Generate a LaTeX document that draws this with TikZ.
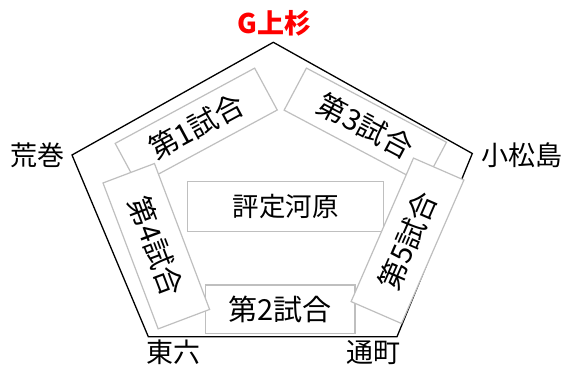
\documentclass[tikz,border=0pt]{standalone}
\usepackage{fontspec}
\newfontfamily\jp{Noto Sans CJK JP}
\definecolor{boxgray}{RGB}{191,191,191}
\tikzset{
  outline/.style={draw=black, line width=1.3pt, line join=miter},
  matchbox/.style={draw=boxgray, line width=1.2pt, fill=white, inner sep=0pt,
    font=\jp\fontsize{29}{31}\selectfont, text=black},
  placelabel/.style={inner sep=0pt, font=\jp\fontsize{27}{29}\selectfont, text=black},
}
\begin{document}
\begin{tikzpicture}[x=1pt, y=-1pt]
\useasboundingbox (0,0) rectangle (569,366);
% pentagon corners
\coordinate (pA) at (273.3,42.3);
\coordinate (pB) at (472.3,153.5);
\coordinate (pC) at (397,336.7);
\coordinate (pD) at (148.3,336.7);
\coordinate (pE) at (72,155);
\draw[outline] (pA) -- (pB) -- (pC) -- (pD) -- (pE) -- cycle;
% boxes
\node[matchbox, minimum width=195.6pt, minimum height=50pt, font=\jp\fontsize{26.5}{28}\selectfont] (judge) at (285.5,206.7) {評定河原};
\node[matchbox, minimum width=158.5pt, minimum height=47.6pt, rotate=28.35] (m1) at (196.2,126.7) {第1試合};
\node[matchbox, minimum width=158.5pt, minimum height=47.6pt, rotate=-27.9] (m3) at (365.3,126.2) {第3試合};
\node[matchbox, minimum width=149.5pt, minimum height=48.3pt] (m2) at (280.3,309.2) {第2試合};
\node[matchbox, minimum width=156pt, minimum height=55pt, rotate=-69.3] (m4) at (156.3,246.2) {第4試合};
\node[matchbox, minimum width=156.5pt, minimum height=55pt, rotate=66.5] (m5) at (407.5,240.8) {第5試合};
% labels
\node[placelabel, text=red, font=\jp\bfseries\fontsize{27}{29}\selectfont] (lA) at (274.2,23.3) {G上杉};
\node[placelabel] (lE) at (37.5,155) {荒巻};
\node[placelabel] (lB) at (521.5,155.5) {小松島};
\node[placelabel] (lD) at (173.3,352) {東六};
\node[placelabel] (lC) at (373.3,353) {通町};
\end{tikzpicture}
\end{document}
